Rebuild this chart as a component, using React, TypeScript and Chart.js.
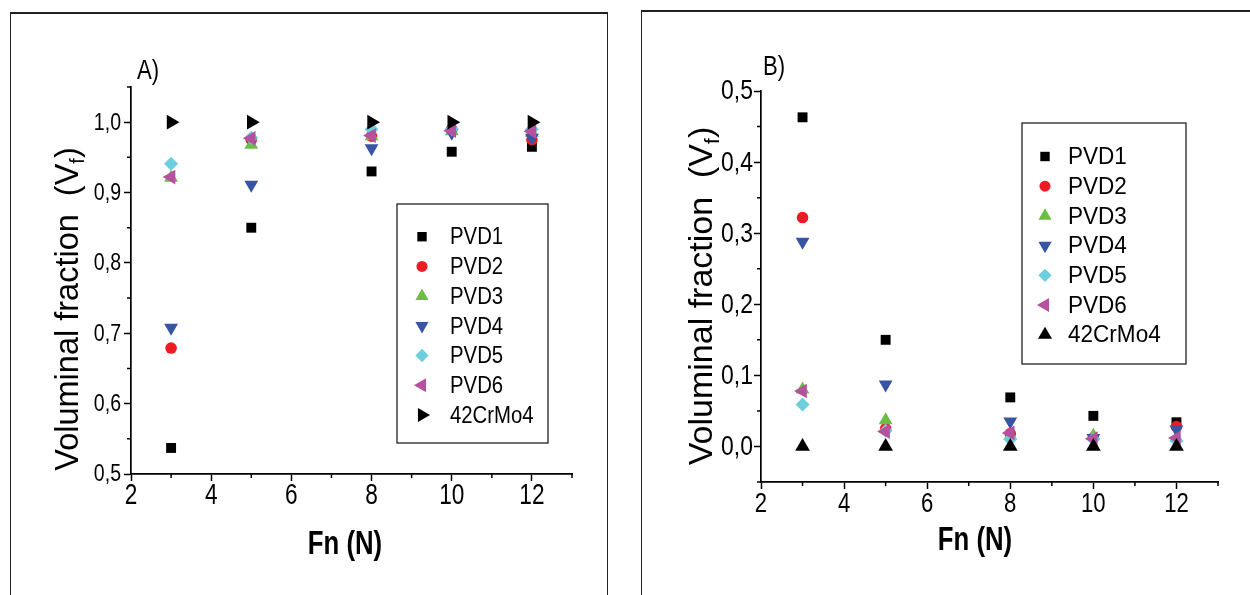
import React, { useEffect, useRef } from 'react';
import { Chart, registerables } from 'chart.js';

Chart.register(...registerables);

// ---------- data ----------
const fn = [3, 5, 8, 10, 12];
const seriesNames = ['PVD1', 'PVD2', 'PVD3', 'PVD4', 'PVD5', 'PVD6', '42CrMo4'];

// Panel A
const aPVD1 = [0.537, 0.85, 0.93, 0.958, 0.965];
const aPVD2 = [0.679, 0.975, 0.98, 0.99, 0.975];
const aPVD3 = [0.921, 0.968, 0.98, 0.987, 0.985];
const aPVD4 = [0.708, 0.911, 0.963, 0.985, 0.978];
const aPVD5 = [0.941, 0.978, 0.99, 0.99, 0.99];
const aPVD6 = [0.922, 0.977, 0.981, 0.988, 0.987];
const aCrMo4 = [1.0, 1.0, 1.0, 1.0, 1.0];

// Panel B
const bPVD1 = [0.463, 0.15, 0.069, 0.043, 0.034];
const bPVD2 = [0.322, 0.025, 0.018, 0.012, 0.028];
const bPVD3 = [0.08, 0.037, 0.015, 0.015, 0.012];
const bPVD4 = [0.288, 0.087, 0.035, 0.012, 0.024];
const bPVD5 = [0.059, 0.022, 0.01, 0.01, 0.008];
const bPVD6 = [0.078, 0.021, 0.019, 0.011, 0.012];
const bCrMo4 = [0, 0, 0, 0, 0];

const xMajorTicks = [2, 4, 6, 8, 10, 12];
const xMinorTicks = [3, 5, 7, 9, 11, 13];
const aYMajorTicks = [0.5, 0.6, 0.7, 0.8, 0.9, 1.0];
const aYMinorTicks = [0.55, 0.65, 0.75, 0.85, 0.95, 1.05];
const bYMajorTicks = [0, 0.1, 0.2, 0.3, 0.4, 0.5];
const bYMinorTicks = [-0.05, 0.05, 0.15, 0.25, 0.35, 0.45];

// ---------- styles ----------
const colors = ['#000000', '#ed1c24', '#6cbd45', '#3a54a4', '#6dcedc', '#b5519f', '#000000'];
const markersA = [
  { style: 'rect', rot: 0, r: 7 },
  { style: 'circle', rot: 0, r: 5.8 },
  { style: 'triangle', rot: 0, r: 8 },
  { style: 'triangle', rot: 180, r: 8 },
  { style: 'rectRot', rot: 0, r: 7 },
  { style: 'triangle', rot: -90, r: 8.5 },
  { style: 'triangle', rot: 90, r: 8.5 },
];
const markersB = markersA.map((m, i) => (i === 6 ? { style: 'triangle', rot: 0, r: 8.5 } : m));

const REG = '"Liberation Sans", Arial, sans-serif';

const fmt = (v: number) => v.toFixed(1).replace('.', ',');

type TextStyle = { size: number; sx: number; bold?: boolean };

// draw text horizontally condensed (the source uses a narrow face)
function drawText(
  ctx: CanvasRenderingContext2D,
  text: string,
  x: number,
  y: number,
  st: TextStyle,
  align: CanvasTextAlign,
) {
  ctx.save();
  ctx.font = `${st.bold ? 'bold ' : ''}${st.size}px ${REG}`;
  ctx.textAlign = align;
  ctx.textBaseline = 'middle';
  ctx.fillStyle = '#000';
  ctx.translate(x, y);
  ctx.scale(st.sx, 1);
  ctx.fillText(text, 0, 0);
  ctx.restore();
}

function drawMarker(ctx: CanvasRenderingContext2D, style: string, x: number, y: number, r: number, rotDeg: number, color: string) {
  ctx.save();
  ctx.fillStyle = color;
  ctx.beginPath();
  if (style === 'circle') {
    ctx.arc(x, y, r, 0, Math.PI * 2);
  } else if (style === 'rect') {
    const s = r * Math.SQRT1_2;
    ctx.rect(x - s, y - s, 2 * s, 2 * s);
  } else if (style === 'rectRot') {
    ctx.moveTo(x - r, y);
    ctx.lineTo(x, y - r);
    ctx.lineTo(x + r, y);
    ctx.lineTo(x, y + r);
    ctx.closePath();
  } else {
    let a = (rotDeg * Math.PI) / 180;
    for (let k = 0; k < 3; k++) {
      const px = x + Math.sin(a) * r;
      const py = y - Math.cos(a) * r;
      if (k === 0) ctx.moveTo(px, py);
      else ctx.lineTo(px, py);
      a += (2 * Math.PI) / 3;
    }
    ctx.closePath();
  }
  ctx.fill();
  ctx.restore();
}

type PanelCfg = {
  series: number[][];
  markers: { style: string; rot: number; r: number }[];
  yMin: number;
  yMax: number;
  yMajor: number[];
  yMinor: number[];
  pad: { left: number; right: number; top: number; bottom: number };
  yTick: TextStyle & { gap: number };
  xTick: TextStyle & { dy: number };
  legend: { x: number; y: number; w: number; h: number; mx: number; tx: number; row0: number; step: number; font: TextStyle };
  xTitle: { x: number; y: number; font: TextStyle };
  yTitle: { x: number; y: number; size: number };
  panel: { text: string; x: number; y: number; font: TextStyle };
};

function buildChart(canvas: HTMLCanvasElement, p: PanelCfg) {
  const datasets = p.series.map((vals, i) => ({
    label: seriesNames[i],
    data: fn.map((x, j) => ({ x, y: vals[j] })),
    pointStyle: p.markers[i].style,
    pointRotation: p.markers[i].rot,
    pointRadius: p.markers[i].r,
    pointHoverRadius: p.markers[i].r,
    pointBackgroundColor: colors[i],
    pointBorderColor: colors[i],
    pointBorderWidth: 0,
    backgroundColor: colors[i],
    borderColor: colors[i],
    showLine: false,
    order: 20 - i,
  }));

  const decor = {
    id: 'decor',
    afterDraw(chart: any) {
      const ctx: CanvasRenderingContext2D = chart.ctx;
      const xs = chart.scales.x;
      const ys = chart.scales.y;
      const area = chart.chartArea;
      ctx.save();
      // minor ticks
      ctx.strokeStyle = '#000';
      ctx.lineWidth = 1.5;
      ctx.beginPath();
      xMinorTicks.forEach((v) => {
        const px = xs.getPixelForValue(v);
        ctx.moveTo(px, area.bottom);
        ctx.lineTo(px, area.bottom + 4);
      });
      p.yMinor.forEach((v) => {
        const py = ys.getPixelForValue(v);
        ctx.moveTo(area.left, py);
        ctx.lineTo(area.left - 4, py);
      });
      ctx.stroke();

      // tick labels (positions from the library scales)
      xMajorTicks.forEach((v) => {
        drawText(ctx, String(v), xs.getPixelForValue(v), area.bottom + p.xTick.dy, p.xTick, 'center');
      });
      p.yMajor.forEach((v) => {
        drawText(ctx, fmt(v), area.left - p.yTick.gap, ys.getPixelForValue(v) + 1, p.yTick, 'right');
      });

      // legend box
      const L = p.legend;
      ctx.lineWidth = 1.3;
      ctx.strokeStyle = '#222';
      ctx.strokeRect(L.x, L.y, L.w, L.h);
      seriesNames.forEach((name, i) => {
        const yy = L.row0 + i * L.step;
        const m = p.markers[i];
        drawMarker(ctx, m.style, L.mx, yy, m.r * 0.95, m.rot, colors[i]);
        drawText(ctx, name, L.tx, yy + 1, L.font, 'left');
      });

      // x title
      drawText(ctx, 'Fn (N)', p.xTitle.x, p.xTitle.y, p.xTitle.font, 'center');

      // y title with subscript
      ctx.save();
      ctx.fillStyle = '#000';
      ctx.translate(p.yTitle.x, p.yTitle.y);
      ctx.rotate(-Math.PI / 2);
      const fs = p.yTitle.size;
      const mainFont = `${fs}px ${REG}`;
      const subFont = `${Math.round(fs * 0.62)}px ${REG}`;
      const t1 = 'Voluminal fraction  (V';
      const t2 = 'f';
      const t3 = ')';
      ctx.font = mainFont;
      const w1 = ctx.measureText(t1).width;
      const w3 = ctx.measureText(t3).width;
      ctx.font = subFont;
      const w2 = ctx.measureText(t2).width;
      const total = w1 + w2 + w3;
      let cx = -total / 2;
      ctx.textAlign = 'left';
      ctx.textBaseline = 'alphabetic';
      const base = fs * 0.36;
      ctx.font = mainFont;
      ctx.fillText(t1, cx, base);
      cx += w1;
      ctx.font = subFont;
      ctx.fillText(t2, cx, base + fs * 0.2);
      cx += w2;
      ctx.font = mainFont;
      ctx.fillText(t3, cx, base);
      ctx.restore();

      // panel label
      drawText(ctx, p.panel.text, p.panel.x, p.panel.y, p.panel.font, 'left');
      ctx.restore();
    },
  };

  return new Chart(canvas, {
    type: 'scatter',
    data: { datasets },
    options: {
      animation: false,
      responsive: false,
      maintainAspectRatio: false,
      events: [],
      layout: { padding: p.pad },
      plugins: { legend: { display: false }, tooltip: { enabled: false } },
      scales: {
        x: {
          type: 'linear',
          min: 2,
          max: 13,
          afterBuildTicks: (s: any) => {
            s.ticks = xMajorTicks.map((v) => ({ value: v }));
          },
          afterFit: (s: any) => {
            s.height = 90;
          },
          ticks: { display: false },
          grid: { drawOnChartArea: false, drawTicks: true, tickLength: 7, tickColor: '#000', tickWidth: 1.5 },
          border: { display: true, color: '#000', width: 1.7 },
        },
        y: {
          type: 'linear',
          min: p.yMin,
          max: p.yMax,
          afterBuildTicks: (s: any) => {
            s.ticks = p.yMajor.map((v) => ({ value: v }));
          },
          afterFit: (s: any) => {
            s.width = 100;
          },
          ticks: { display: false },
          grid: { drawOnChartArea: false, drawTicks: true, tickLength: 7, tickColor: '#000', tickWidth: 1.5 },
          border: { display: true, color: '#000', width: 1.7 },
        },
      },
    },
    plugins: [decor],
  } as any);
}

const panelA: PanelCfg = {
  series: [aPVD1, aPVD2, aPVD3, aPVD4, aPVD5, aPVD6, aCrMo4],
  markers: markersA,
  yMin: 0.5,
  yMax: 1.05,
  yMajor: aYMajorTicks,
  yMinor: aYMinorTicks,
  pad: { left: 31, right: 53, top: 87, bottom: 31 },
  yTick: { size: 23, sx: 0.85, gap: 10 },
  xTick: { size: 29, sx: 0.78, dy: 22 },
  legend: { x: 397, y: 204, w: 151, h: 239, mx: 422, tx: 450, row0: 236.7, step: 29.7, font: { size: 24.5, sx: 0.83 } },
  xTitle: { x: 345, y: 545, font: { size: 33, sx: 0.78, bold: true } },
  yTitle: { x: 66, y: 309, size: 32.5 },
  panel: { text: 'A)', x: 137, y: 72, font: { size: 27, sx: 0.82 } },
};

const panelB: PanelCfg = {
  series: [bPVD1, bPVD2, bPVD3, bPVD4, bPVD5, bPVD6, bCrMo4],
  markers: markersB,
  yMin: -0.05,
  yMax: 0.5,
  yMajor: bYMajorTicks,
  yMinor: bYMinorTicks,
  pad: { left: 36, right: 32, top: 91, bottom: 23 },
  yTick: { size: 27, sx: 0.85, gap: 8 },
  xTick: { size: 27, sx: 0.82, dy: 22.5 },
  legend: { x: 397, y: 123, w: 164, h: 241, mx: 420, tx: 443, row0: 156.5, step: 29.7, font: { size: 24.5, sx: 0.92 } },
  xTitle: { x: 350, y: 541, font: { size: 33, sx: 0.78, bold: true } },
  yTitle: { x: 75, y: 296, size: 34 },
  panel: { text: 'B)', x: 138, y: 68, font: { size: 27, sx: 0.82 } },
};

function Panel({ cfg, left }: { cfg: PanelCfg; left: number }) {
  const ref = useRef<HTMLCanvasElement | null>(null);
  useEffect(() => {
    if (!ref.current) return;
    const chart = buildChart(ref.current, cfg);
    return () => chart.destroy();
  }, [cfg]);
  return (
    <canvas
      ref={ref}
      width={625}
      height={595}
      style={{ position: 'absolute', left, top: 0, width: 625, height: 595 }}
    />
  );
}

export default function App() {
  return (
    <div style={{ position: 'absolute', left: 0, top: 0, width: 1250, height: 595, background: '#fff', overflow: 'hidden' }}>
      <div
        style={{
          position: 'absolute',
          left: 10,
          top: 12,
          width: 596,
          height: 640,
          borderLeft: '1.5px solid #222',
          borderRight: '1.5px solid #222',
          borderTop: '2px solid #222',
        }}
      />
      <div
        style={{
          position: 'absolute',
          left: 641,
          top: 10,
          width: 700,
          height: 640,
          borderLeft: '1.5px solid #222',
          borderTop: '2px solid #222',
        }}
      />
      <Panel cfg={panelA} left={0} />
      <Panel cfg={panelB} left={625} />
    </div>
  );
}
